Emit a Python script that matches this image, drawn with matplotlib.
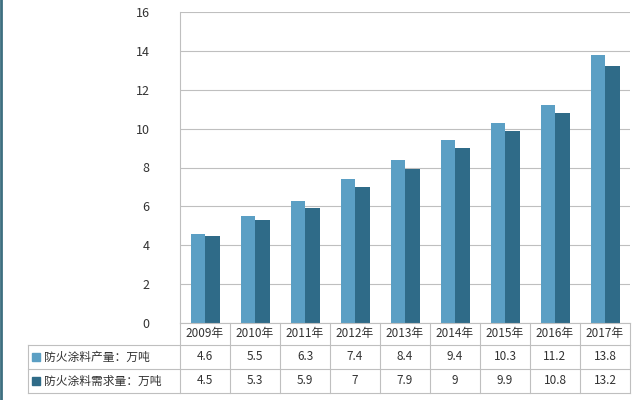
import matplotlib
matplotlib.use("Agg")
import matplotlib.pyplot as plt
from matplotlib.lines import Line2D
from matplotlib.patches import Rectangle
import numpy as np

plt.rcParams['font.family'] = ['Noto Sans CJK SC', 'DejaVu Sans']

years = ["2009年", "2010年", "2011年", "2012年", "2013年", "2014年", "2015年", "2016年", "2017年"]
production = [4.6, 5.5, 6.3, 7.4, 8.4, 9.4, 10.3, 11.2, 13.8]
demand = [4.5, 5.3, 5.9, 7, 7.9, 9, 9.9, 10.8, 13.2]
series_names = ["防火涂料产量：万吨", "防火涂料需求量：万吨"]
yticks = [0, 2, 4, 6, 8, 10, 12, 14, 16]

c1, c2 = "#5b9fc4", "#2f6b88"
W, H = 634, 400
fig = plt.figure(figsize=(6.34, 4.0), dpi=100)
L, R, T, B = 180, 630, 12, 323
ax = fig.add_axes([L / W, (H - B) / H, (R - L) / W, (B - T) / H])
x = np.arange(len(years))
bw = 0.29
ax.bar(x - bw / 2, production, bw, color=c1, zorder=3)
ax.bar(x + bw / 2, demand, bw, color=c2, zorder=3)
ax.set_xlim(-0.5, len(years) - 0.5)
ax.set_ylim(0, 16)
ax.set_yticks(yticks)
ax.set_yticklabels([str(v) for v in yticks], fontsize=9, color="#333333")
ax.set_xticks([])
ax.grid(axis="y", color="#bfbfbf", linewidth=0.8, zorder=0)
for s in ["top", "right", "bottom"]:
    ax.spines[s].set_visible(False)
ax.spines["left"].set_color("#bfbfbf")
ax.tick_params(axis="y", length=0, pad=22)

# table overlay in pixel coordinates
ov = fig.add_axes([0, 0, 1, 1], facecolor="none")
ov.set_xlim(0, W); ov.set_ylim(H, 0); ov.axis("off")
lc = "#bfbfbf"
rows = [B, 345, 369, 393]
cw = (R - L) / len(years)
ov.add_line(Line2D([L, R], [B, B], color=lc, lw=0.8))
for y in rows[1:]:
    ov.add_line(Line2D([28, R], [y, y], color=lc, lw=0.8))
ov.add_line(Line2D([28, 28], [rows[1], rows[3]], color=lc, lw=0.8))
for i in range(len(years) + 1):
    xx = L + i * cw
    ov.add_line(Line2D([xx, xx], [B, rows[3]], color=lc, lw=0.8))
for i, yr in enumerate(years):
    cx = L + (i + 0.5) * cw
    ov.text(cx, (rows[0] + rows[1]) / 2, yr, ha="center", va="center", fontsize=8.5, color="#333333")
    ov.text(cx, (rows[1] + rows[2]) / 2, f"{production[i]:g}", ha="center", va="center", fontsize=8.5, color="#333333")
    ov.text(cx, (rows[2] + rows[3]) / 2, f"{demand[i]:g}", ha="center", va="center", fontsize=8.5, color="#333333")
for k, (name, col) in enumerate(zip(series_names, [c1, c2])):
    yc = (rows[k + 1] + rows[k + 2]) / 2
    ov.add_patch(Rectangle((32, yc - 4), 8, 8, color=col))
    ov.text(44, yc, name, ha="left", va="center", fontsize=8.5, color="#333333")
ov.add_line(Line2D([1, 1], [0, H], color="#3d6f80", lw=2))

fig.savefig("out.png", dpi=100)
